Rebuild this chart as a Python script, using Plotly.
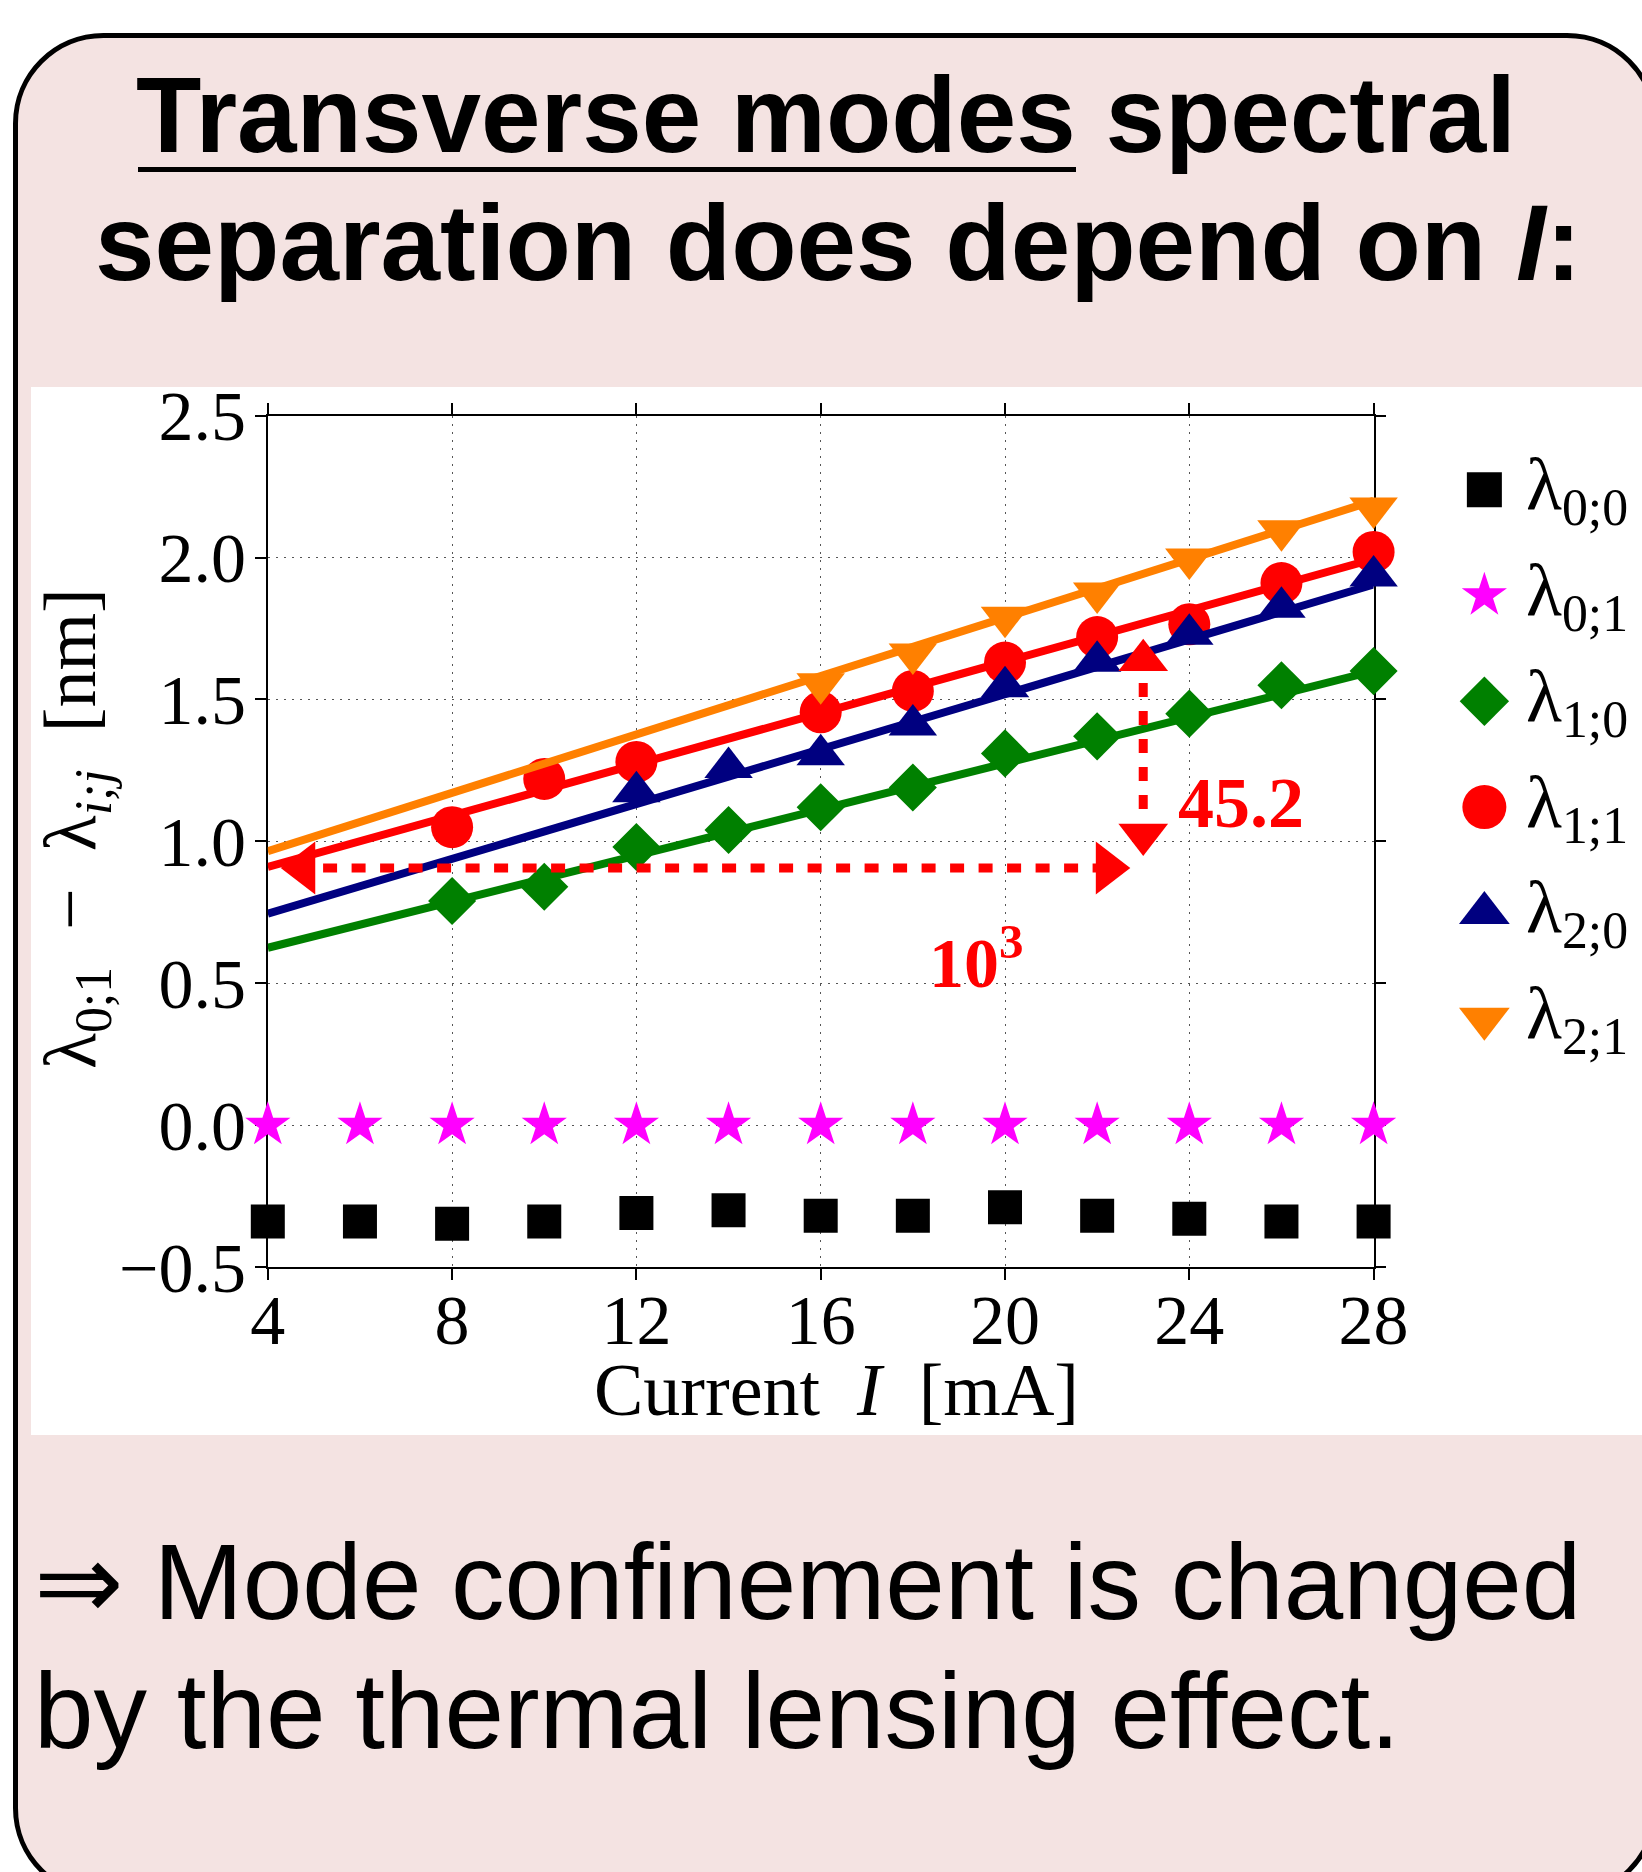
import plotly.graph_objects as go

W, H = 1642, 1872

# ---------------- data ----------------
current_all = [4, 6, 8, 10, 12, 14, 16, 18, 20, 22, 24, 26, 28]
lam_00 = [-0.34, -0.34, -0.348, -0.34, -0.31, -0.30, -0.319, -0.319, -0.289, -0.319, -0.33, -0.34, -0.34]
lam_01 = [0.0, 0.0, 0.0, 0.0, 0.0, 0.0, 0.0, 0.0, 0.0, 0.0, 0.0, 0.0, 0.0]

current_10 = [8, 10, 12, 14, 16, 18, 20, 22, 24, 26, 28]
lam_10 = [0.79, 0.84, 0.98, 1.04, 1.12, 1.19, 1.31, 1.37, 1.45, 1.55, 1.60]

current_11 = [8, 10, 12, 16, 18, 20, 22, 24, 26, 28]
lam_11 = [1.05, 1.22, 1.28, 1.455, 1.53, 1.63, 1.72, 1.765, 1.91, 2.02]

current_20 = [12, 14, 16, 18, 20, 22, 24, 26, 28]
lam_20 = [1.175, 1.26, 1.305, 1.41, 1.545, 1.635, 1.73, 1.825, 1.935]

current_21 = [16, 18, 20, 22, 24, 26, 28]
lam_21 = [1.555, 1.66, 1.79, 1.875, 1.995, 2.095, 2.175]

fit_current = [4, 28]
fit_10 = [0.625, 1.60]
fit_11 = [0.91, 1.995]
fit_20 = [0.745, 1.905]
fit_21 = [0.965, 2.20]

# red annotation arrows (data coordinates)
h_arrow_x = [5.2, 22.0]
h_arrow_y = [0.906, 0.906]
h_heads_x = [4.78, 22.22]
h_heads_y = [0.906, 0.906]
v_arrow_x = [23.0, 23.0]
v_arrow_y = [1.558, 1.104]
v_top_x, v_top_y = [23.0], [1.638]
v_bot_x, v_bot_y = [23.0], [1.024]

note_x = [25.13, 18.3]
note_y = [1.1335, 0.59]
note_text = ["<b>45.2</b>", "<b>10<sup>3</sup></b>"]

legend_labels = ["λ<sub>0;0</sub>", "λ<sub>0;1</sub>", "λ<sub>1;0</sub>",
                 "λ<sub>1;1</sub>", "λ<sub>2;0</sub>", "λ<sub>2;1</sub>"]
legend_rows = [0, 1, 2, 3, 4, 5]

x_ticks = [4, 8, 12, 16, 20, 24, 28]
y_ticks = [-0.5, 0.0, 0.5, 1.0, 1.5, 2.0, 2.5]

# ---------------- styles ----------------
BLACK = "#000000"
MAGENTA = "#ff00ff"
GREEN = "#008000"
RED = "#ff0000"
NAVY = "#000080"
ORANGE = "#ff8000"
PINK = "rgb(244,227,226)"
SERIF = "Liberation Serif"
SANS = "Liberation Sans"


def px(x):
    return x / W


def py(y):
    return 1 - y / H


fig = go.Figure()

series = [
    (current_all, lam_00, None, None, "square", 34, BLACK),
    (current_all, lam_01, None, None, "star", 34, MAGENTA),
    (current_10, lam_10, fit_current, fit_10, "diamond", 37, GREEN),
    (current_11, lam_11, fit_current, fit_11, "circle", 42, RED),
    (current_20, lam_20, fit_current, fit_20, "triangle-up", 42, NAVY),
    (current_21, lam_21, fit_current, fit_21, "triangle-down", 42, ORANGE),
]

for xs, ys, fx, fy, sym, size, col in series:
    if fx is not None:
        fig.add_trace(go.Scatter(x=fx, y=fy, mode="lines",
                                 line=dict(color=col, width=8),
                                 showlegend=False, hoverinfo="skip", cliponaxis=False))
    fig.add_trace(go.Scatter(x=xs, y=ys, mode="markers",
                             marker=dict(symbol=sym, size=size, color=col, line=dict(width=0)),
                             showlegend=False, cliponaxis=False))

# red arrows
fig.add_trace(go.Scatter(x=h_arrow_x, y=h_arrow_y, mode="lines",
                         line=dict(color=RED, width=9, dash="14px,14.5px"),
                         showlegend=False, cliponaxis=False))
fig.add_trace(go.Scatter(x=v_arrow_x, y=v_arrow_y, mode="lines",
                         line=dict(color=RED, width=9, dash="14px,14px"),
                         showlegend=False, cliponaxis=False))
fig.add_trace(go.Scatter(x=h_heads_x[:1], y=h_heads_y[:1], mode="markers",
                         marker=dict(symbol="triangle-left", size=46, color=RED, line=dict(width=0)),
                         showlegend=False, cliponaxis=False))
fig.add_trace(go.Scatter(x=h_heads_x[1:], y=h_heads_y[1:], mode="markers",
                         marker=dict(symbol="triangle-right", size=46, color=RED, line=dict(width=0)),
                         showlegend=False, cliponaxis=False))
fig.add_trace(go.Scatter(x=v_top_x, y=v_top_y, mode="markers",
                         marker=dict(symbol="triangle-up", size=43, color=RED, line=dict(width=0)),
                         showlegend=False, cliponaxis=False))
fig.add_trace(go.Scatter(x=v_bot_x, y=v_bot_y, mode="markers",
                         marker=dict(symbol="triangle-down", size=43, color=RED, line=dict(width=0)),
                         showlegend=False, cliponaxis=False))

# manual legend on its own invisible axes
leg_syms = [("square", 35, BLACK), ("star", 34, MAGENTA), ("diamond", 38, GREEN),
            ("circle", 44, RED), ("triangle-up", 44, NAVY), ("triangle-down", 44, ORANGE)]
for row, (sym, size, col) in zip(legend_rows, leg_syms):
    fig.add_trace(go.Scatter(x=[0], y=[row], xaxis="x2", yaxis="y2", mode="markers",
                             marker=dict(symbol=sym, size=size, color=col),
                             showlegend=False, cliponaxis=False))

axis_common = dict(
    showline=True, linecolor=BLACK, linewidth=1.5, mirror="ticks",
    ticks="outside", ticklen=11, tickwidth=1.5, tickcolor=BLACK,
    showgrid=True, gridcolor="#555555", griddash="2px,6px", gridwidth=1.2,
    zeroline=False, layer="below traces", automargin=False,
    tickfont=dict(family=SERIF, size=70, color=BLACK),
)

fig.update_layout(
    width=W, height=H,
    margin=dict(l=0, r=0, t=0, b=0),
    paper_bgcolor="white", plot_bgcolor="white",
    showlegend=False,
    xaxis=dict(domain=[px(267.8), px(1373.6)], range=[4, 28], tickvals=x_ticks,
               ticklabelstandoff=-20, **axis_common),
    yaxis=dict(domain=[py(1267.0), py(415.7)], range=[-0.5, 2.5], tickvals=y_ticks,
               tickformat=".1f", ticklabelstandoff=-5, **axis_common),
    xaxis2=dict(domain=[0.88, 1.0], range=[-1, 4], visible=False, anchor="y2"),
    yaxis2=dict(domain=[py(1071.6), py(436.8)], range=[5.5, -0.5], visible=False, anchor="x2"),
)

# background: rounded pink panel and white plot panel
x0, x1, y0, y1, R = 15.5, 1655.0, 35.5, 1896.0, 88.0
k = 0.5523


def P(x, y):
    return f"{px(x):.5f},{py(y):.5f}"


path = (
    f"M {P(x0 + R, y0)} L {P(x1 - R, y0)} "
    f"C {P(x1 - R + R * k, y0)} {P(x1, y0 + R - R * k)} {P(x1, y0 + R)} "
    f"L {P(x1, y1 - R)} "
    f"C {P(x1, y1 - R + R * k)} {P(x1 - R + R * k, y1)} {P(x1 - R, y1)} "
    f"L {P(x0 + R, y1)} "
    f"C {P(x0 + R - R * k, y1)} {P(x0, y1 - R + R * k)} {P(x0, y1 - R)} "
    f"L {P(x0, y0 + R)} "
    f"C {P(x0, y0 + R - R * k)} {P(x0 + R - R * k, y0)} {P(x0 + R, y0)} Z"
)

fig.add_shape(type="path", path=path, xref="paper", yref="paper",
              fillcolor=PINK, line=dict(color=BLACK, width=5), layer="below")
fig.add_shape(type="rect", xref="paper", yref="paper",
              x0=px(31), x1=px(1660), y0=py(1435), y1=py(387),
              fillcolor="white", line=dict(width=0), layer="below")
fig.add_shape(type="line", xref="paper", yref="paper",
              x0=px(138), x1=px(1076), y0=py(169.5), y1=py(169.5),
              line=dict(color=BLACK, width=5), layer="above")

ann = []
ann.append(dict(text="<b>Transverse modes spectral</b>", x=px(826), y=py(115),
                font=dict(family=SANS, size=107, color=BLACK)))
ann.append(dict(text="<b>separation does depend on <i>I</i>:</b>", x=px(838), y=py(243),
                font=dict(family=SANS, size=107, color=BLACK)))
ann.append(dict(text="⇒ Mode confinement is changed", x=px(32), y=py(1582), xanchor="left",
                font=dict(family=SANS, size=107, color=BLACK)))
ann.append(dict(text="by the thermal lensing effect.", x=px(32), y=py(1711), xanchor="left",
                font=dict(family=SANS, size=107, color=BLACK)))
ann.append(dict(text="Current\u2002<i>I</i>\u2002[mA]", x=px(836.5), y=py(1390),
                font=dict(family=SERIF, size=74, color=BLACK)))
ann.append(dict(text="λ<sub>0;1</sub>\u2002−\u2002λ<sub><i>i;j</i></sub>\u2002[nm]",
                x=px(75), y=py(829), textangle=-90,
                font=dict(family=SERIF, size=74, color=BLACK)))
for a in ann:
    a.setdefault("xref", "paper")
    a.setdefault("yref", "paper")
    a.setdefault("xanchor", "center")
    a.setdefault("yanchor", "middle")
    a["showarrow"] = False
    fig.add_annotation(**a)

fig.add_annotation(text=note_text[0], x=note_x[0], y=note_y[0], xref="x", yref="y",
                   showarrow=False, xanchor="center", yanchor="middle",
                   font=dict(family=SERIF, size=72, color=RED))
fig.add_annotation(text=note_text[1], x=note_x[1], y=note_y[1], xref="x", yref="y",
                   showarrow=False, xanchor="left", yanchor="middle",
                   font=dict(family=SERIF, size=70, color=RED))

for row, lab in zip(legend_rows, legend_labels):
    fig.add_annotation(text=lab, x=1.0, y=row, xref="x2", yref="y2", showarrow=False,
                       xanchor="left", yanchor="middle",
                       font=dict(family=SERIF, size=74, color=BLACK))

fig.write_html("out.html")
